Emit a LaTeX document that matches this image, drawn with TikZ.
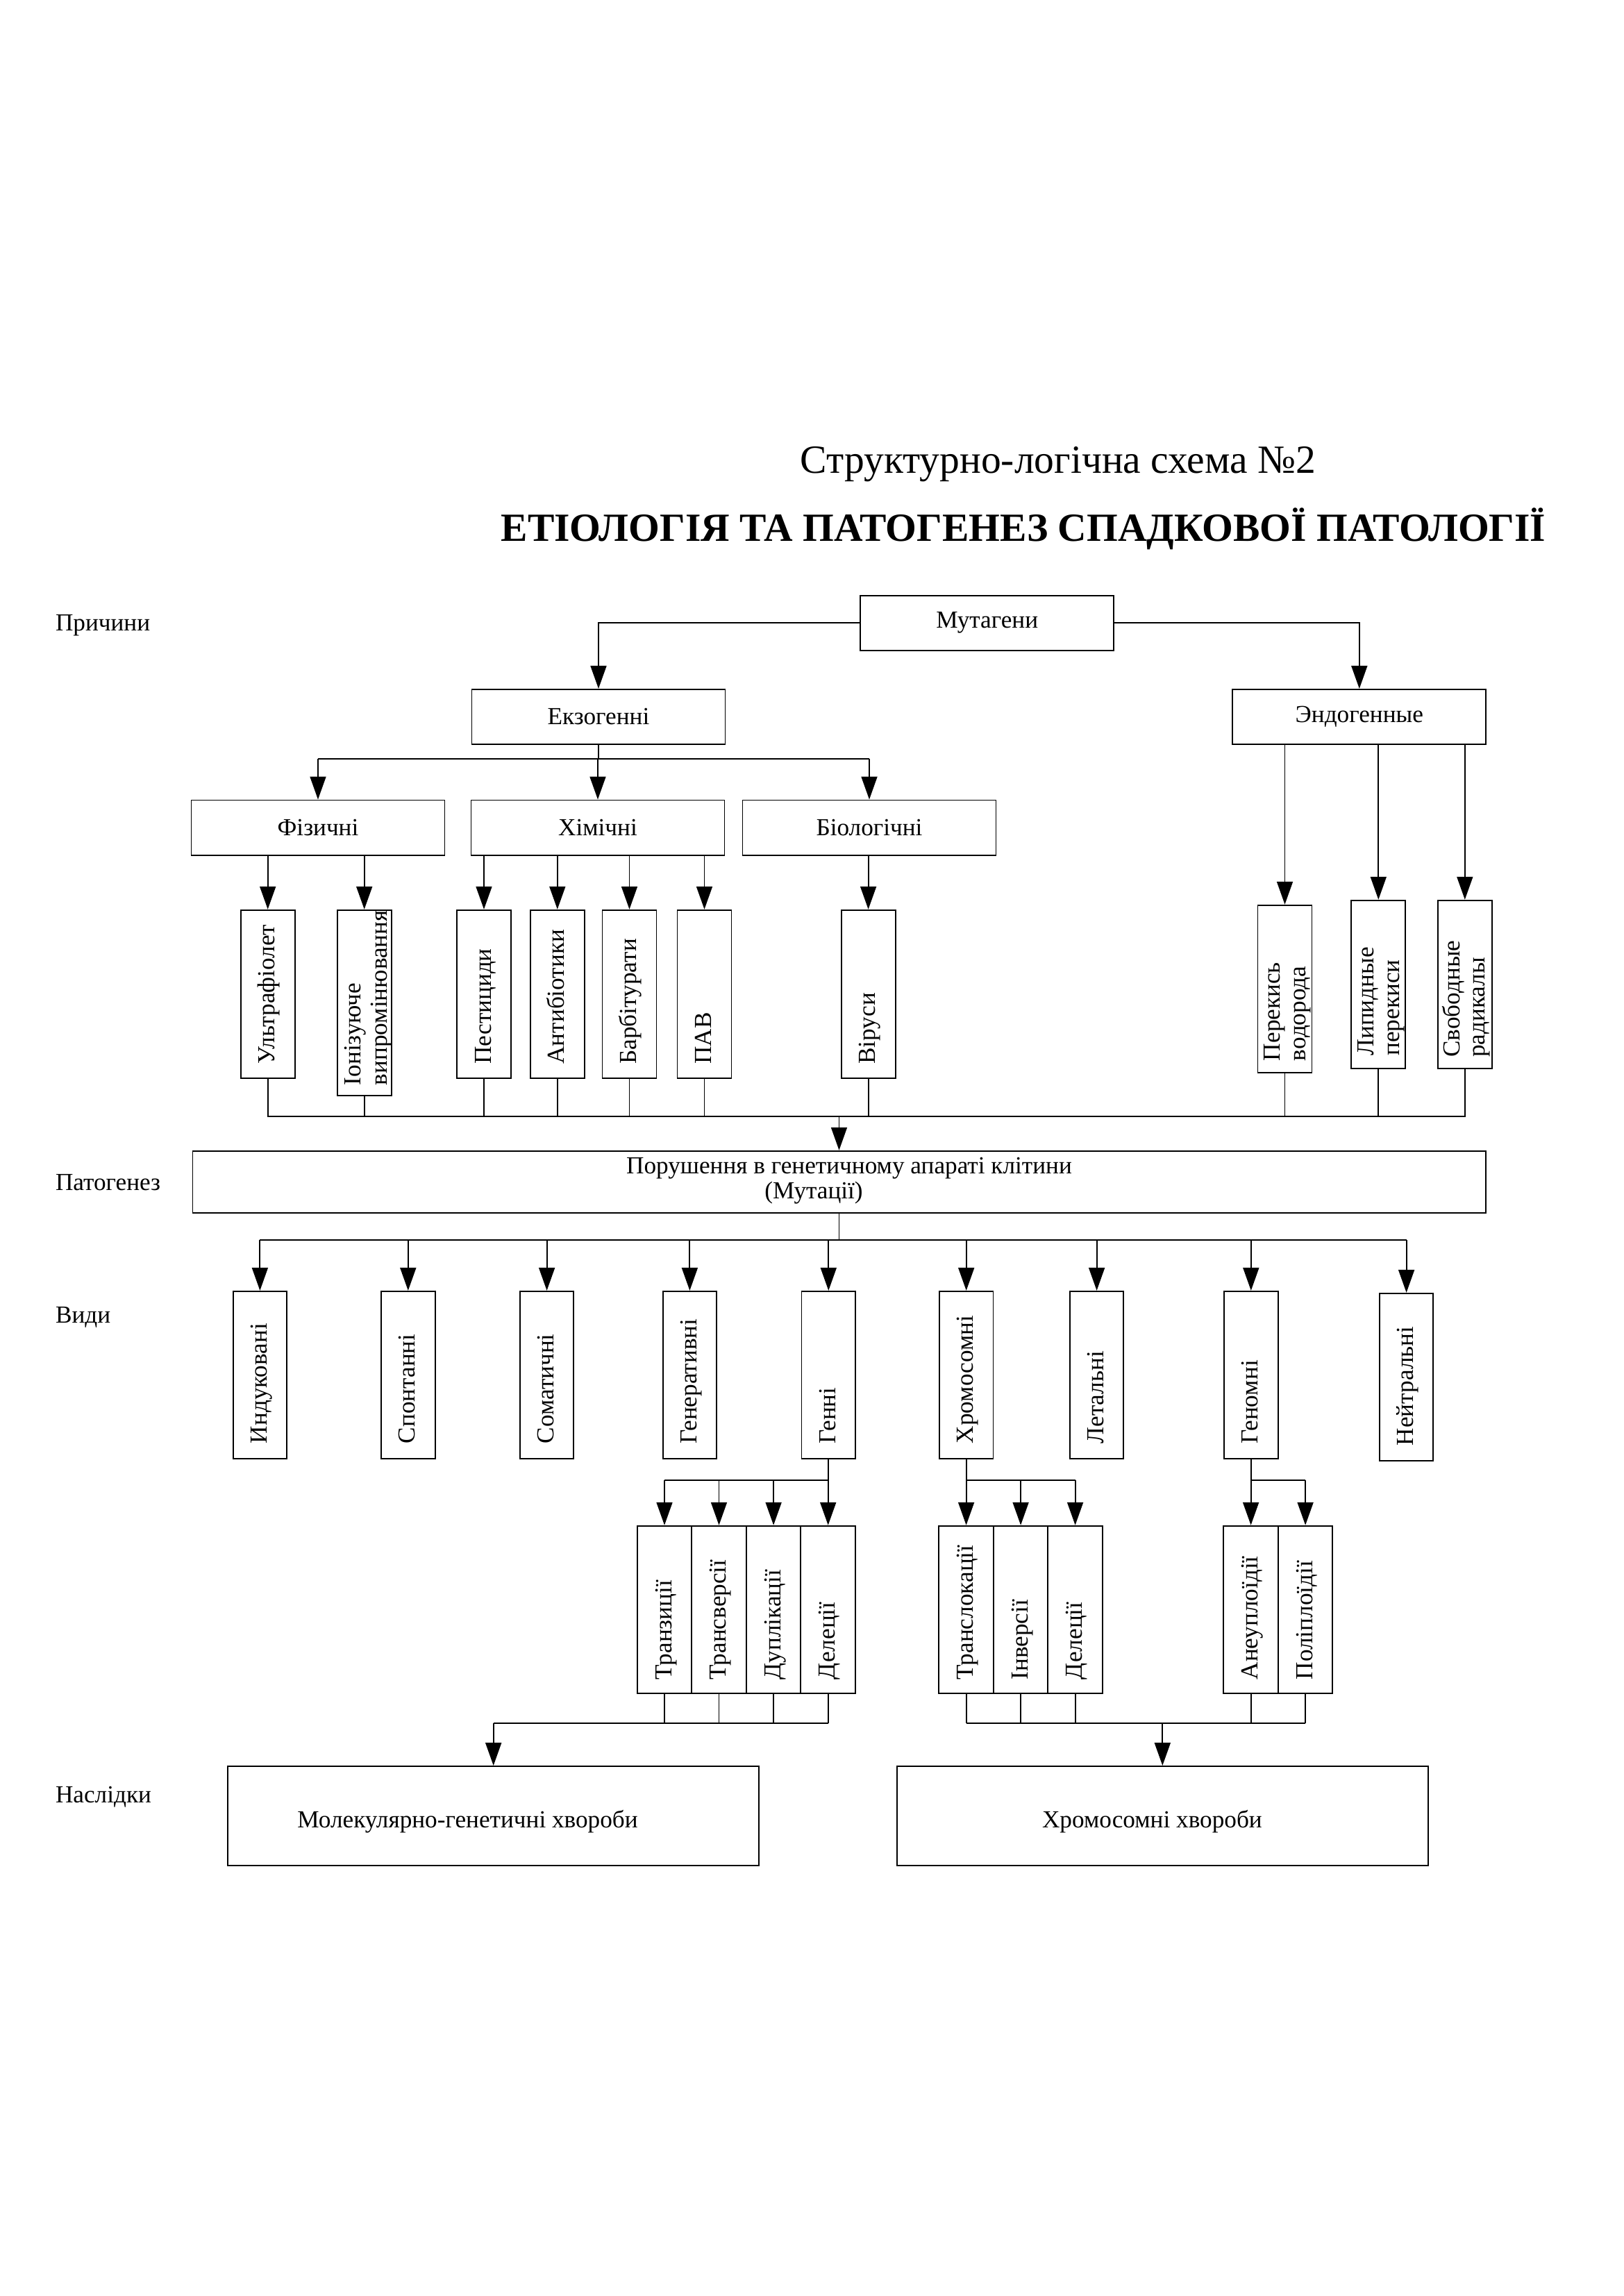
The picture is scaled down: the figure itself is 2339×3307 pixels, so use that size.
\documentclass[tikz,border=0pt]{standalone}
\usepackage{fontspec}
\setmainfont{Liberation Serif}
\usetikzlibrary{arrows.meta}
\newdimen\pxu \pxu=0.089782mm
\newcommand\fsz{\fontsize{9pt}{9.6pt}\selectfont}
\begin{document}
\begin{tikzpicture}[x=0.089782mm, y=-0.089782mm,
  every node/.style={inner sep=0pt, outer sep=0pt},
  box/.style={draw, line width=0.5pt, font=\fsz, outer sep=0.25pt},
  hbox/.style={box, minimum width=365\pxu, minimum height=79\pxu},
  vbox/.style={box, minimum width=78\pxu, minimum height=241.8\pxu},
  tbox/.style={box, minimum width=77.6\pxu, minimum height=241.4\pxu},
  sbox/.style={box, minimum width=78.5\pxu, minimum height=241.6\pxu},
  lbl/.style={font=\fsz, anchor=base west},
  vt/.style={font=\fsz, rotate=90, anchor=base west},
  conn/.style={line width=0.5pt},
  arr/.style={line width=0.5pt, -{Triangle[length=2.96mm,width=2.06mm]}}]
\path[use as bounding box, fill=white] (0,0) rectangle (2339,3307);

% titles
\node[font=\fontsize{14.7pt}{17pt}\selectfont, anchor=base] (t1) at (1524,681.5) {Структурно-логічна схема №2};
\node[font=\fontsize{14.7pt}{17pt}\selectfont\bfseries, anchor=base] (t2) at (1474,779.7) {ЕТІОЛОГІЯ ТА ПАТОГЕНЕЗ СПАДКОВОЇ ПАТОЛОГІЇ};

% side labels
\node[lbl] (lprich) at (80,908) {Причини};
\node[lbl] (lpat) at (80,1714) {Патогенез};
\node[lbl] (lvid) at (80,1905) {Види};
\node[lbl] (lnasl) at (80,2596) {Наслідки};

% causes
\node[hbox] (mut) at (1421.7,897.2) {Мутагени};
\node[hbox] (exo) at (862,1032.4) {Екзогенні};
\node[hbox] (endo) at (1957.8,1032.4) {Эндогенные};
\node[hbox] (phys) at (458,1192) {Фізичні};
\node[hbox] (chem) at (861,1192) {Хімічні};
\node[hbox] (bio) at (1252,1192) {Біологічні};

\draw[arr] (mut.west) -| (exo.north);
\draw[arr] (mut.east) -| (endo.north);
\coordinate (be) at (862,1093);
\draw[conn] (exo.south) -- (be);
\draw[conn] (phys.north |- be) -- (bio.north |- be);
\foreach \n in {phys,chem,bio} \draw[arr] (\n.north |- be) -- (\n.north);

% agents
\node[vbox] (uv) at (385.7,1431.6) {};
\node[vbox, minimum height=267.3\pxu] (ion) at (524.7,1444.35) {};
\node[vbox] (pest) at (697,1431.6) {};
\node[vbox] (anti) at (802.8,1431.6) {};
\node[vbox] (barb) at (906.5,1431.6) {};
\node[vbox] (pav) at (1014.5,1431.6) {};
\node[vbox] (vir) at (1250.6,1431.6) {};
\node[vbox, minimum height=241.3\pxu] (perox) at (1850.5,1424.35) {};
\node[vbox, minimum height=242\pxu] (lipid) at (1985.3,1417.7) {};
\node[vbox, minimum height=242\pxu] (free) at (2109.8,1417.7) {};

\node[vt] (uvT) at ([shift={(10,-21)}]uv.south) {Ультрафіолет};
\node[vt] (ionT1) at ([shift={(-5,-16)}]ion.south) {Іонізуюче};
\node[vt] (ionT2) at ([shift={(33,-16)}]ion.south) {випромінювання};
\node[vt] (pestT) at ([shift={(10,-21)}]pest.south) {Пестициди};
\node[vt] (antiT) at ([shift={(10,-21)}]anti.south) {Антибіотики};
\node[vt] (barbT) at ([shift={(10,-21)}]barb.south) {Барбітурати};
\node[vt] (pavT) at ([shift={(10,-21)}]pav.south) {ПАВ};
\node[vt] (virT) at ([shift={(10,-21)}]vir.south) {Віруси};
\node[vt] (peroxT1) at ([shift={(-7,-18)}]perox.south) {Перекись};
\node[vt] (peroxT2) at ([shift={(30,-18)}]perox.south) {водорода};
\node[vt] (lipidT1) at ([shift={(-7,-19)}]lipid.south) {Липидные};
\node[vt] (lipidT2) at ([shift={(30,-19)}]lipid.south) {перекиси};
\node[vt] (freeT1) at ([shift={(-7,-17)}]free.south) {Свободные};
\node[vt] (freeT2) at ([shift={(29,-17)}]free.south) {радикалы};

\foreach \n in {uv,ion} \draw[arr] (\n.north |- phys.south) -- (\n.north);
\foreach \n in {pest,anti,barb,pav} \draw[arr] (\n.north |- chem.south) -- (\n.north);
\draw[arr] (vir.north |- bio.south) -- (vir.north);
\foreach \n in {perox,lipid,free} \draw[arr] (\n.north |- endo.south) -- (\n.north);

% pathogenesis
\node[box, minimum width=1862\pxu, minimum height=89\pxu] (por) at (1208.5,1702.2) {};
\node[font=\fsz, anchor=base] (porT1) at (1223,1690) {Порушення в генетичному апараті клітини};
\node[font=\fsz, anchor=base] (porT2) at (1172,1726) {(Мутації)};

\coordinate (b1) at (1208.5,1607.7);
\draw[conn] (uv.south) -- (uv.south |- b1) -- (free.south |- b1) -- (free.south);
\foreach \n in {ion,pest,anti,barb,pav,vir,perox,lipid} \draw[conn] (\n.south) -- (\n.south |- b1);
\draw[arr] (b1) -- (por.north);

% kinds
\node[tbox] (ind) at (374.4,1980.5) {};
\node[tbox] (spon) at (587.8,1980.5) {};
\node[tbox] (som) at (787.6,1980.5) {};
\node[tbox] (gen) at (993.4,1980.5) {};
\node[tbox] (genn) at (1193.3,1980.5) {};
\node[tbox] (chrom) at (1391.7,1980.5) {};
\node[tbox] (let) at (1579.6,1980.5) {};
\node[tbox] (genom) at (1801.8,1980.5) {};
\node[tbox] (neut) at (2025.6,1983.5) {};

\node[vt] (indT) at ([shift={(10,-23)}]ind.south) {Индуковані};
\node[vt] (sponT) at ([shift={(10,-23)}]spon.south) {Спонтанні};
\node[vt] (somT) at ([shift={(10,-23)}]som.south) {Соматичні};
\node[vt] (genT) at ([shift={(10,-23)}]gen.south) {Генеративні};
\node[vt] (gennT) at ([shift={(10,-23)}]genn.south) {Генні};
\node[vt] (chromT) at ([shift={(10,-23)}]chrom.south) {Хромосомні};
\node[vt] (letT) at ([shift={(10,-23)}]let.south) {Летальні};
\node[vt] (genomT) at ([shift={(10,-23)}]genom.south) {Геномні};
\node[vt] (neutT) at ([shift={(10,-23)}]neut.south) {Нейтральні};

\coordinate (b2) at (1208.5,1785.8);
\draw[conn] (por.south) -- (b2);
\draw[conn] (ind.north |- b2) -- (neut.north |- b2);
\foreach \n in {ind,spon,som,gen,genn,chrom,let,genom,neut} \draw[arr] (\n.north |- b2) -- (\n.north);

% subtypes
\node[sbox] (tz) at (957,2318.5) {};
\node[sbox] (tv) at (1035.5,2318.5) {};
\node[sbox] (dp) at (1114.1,2318.5) {};
\node[sbox] (dl) at (1192.7,2318.5) {};
\node[sbox] (tl) at (1391.6,2318.5) {};
\node[sbox] (ti) at (1470.1,2318.5) {};
\node[sbox] (dc) at (1548.6,2318.5) {};
\node[sbox] (an) at (1801.6,2318.5) {};
\node[sbox] (pl) at (1880.1,2318.5) {};

\node[vt] (tzT) at ([shift={(10,-21)}]tz.south) {Транзиції};
\node[vt] (tvT) at ([shift={(10,-21)}]tv.south) {Трансверсії};
\node[vt] (dpT) at ([shift={(10,-21)}]dp.south) {Дуплікації};
\node[vt] (dlT) at ([shift={(10,-21)}]dl.south) {Делеції};
\node[vt] (tlT) at ([shift={(10,-21)}]tl.south) {Транслокації};
\node[vt] (tiT) at ([shift={(10,-21)}]ti.south) {Інверсії};
\node[vt] (dcT) at ([shift={(10,-21)}]dc.south) {Делеції};
\node[vt] (anT) at ([shift={(10,-21)}]an.south) {Анеуплоїдії};
\node[vt] (plT) at ([shift={(10,-21)}]pl.south) {Поліплоїдії};

\coordinate (b3) at (0,2132);
\draw[conn] (genn.south) -- (genn.south |- b3);
\draw[conn] (tz.north |- b3) -- (dl.north |- b3);
\foreach \n in {tz,tv,dp,dl} \draw[arr] (\n.north |- b3) -- (\n.north);
\draw[conn] (chrom.south) -- (chrom.south |- b3);
\draw[conn] (tl.north |- b3) -- (dc.north |- b3);
\foreach \n in {tl,ti,dc} \draw[arr] (\n.north |- b3) -- (\n.north);
\draw[conn] (genom.south) -- (genom.south |- b3);
\draw[conn] (an.north |- b3) -- (pl.north |- b3);
\foreach \n in {an,pl} \draw[arr] (\n.north |- b3) -- (\n.north);

% consequences
\node[box, minimum width=765.4\pxu, minimum height=142.7\pxu] (mol) at (710.7,2615.35) {};
\node[box, minimum width=765.3\pxu, minimum height=142.7\pxu] (chr) at (1674.3,2615.35) {};
\node[font=\fsz, anchor=base] (molT) at (673.6,2632.7) {Молекулярно-генетичні хвороби};
\node[font=\fsz, anchor=base] (chrT) at (1659.4,2632.7) {Хромосомні хвороби};

\coordinate (b4) at (0,2481.7);
\draw[conn] (mol.north |- b4) -- (dl.south |- b4);
\foreach \n in {tz,tv,dp,dl} \draw[conn] (\n.south) -- (\n.south |- b4);
\draw[arr] (mol.north |- b4) -- (mol.north);
\draw[conn] (tl.south |- b4) -- (pl.south |- b4);
\foreach \n in {tl,ti,dc,an,pl} \draw[conn] (\n.south) -- (\n.south |- b4);
\draw[arr] (chr.north |- b4) -- (chr.north);
\end{tikzpicture}
\end{document}
